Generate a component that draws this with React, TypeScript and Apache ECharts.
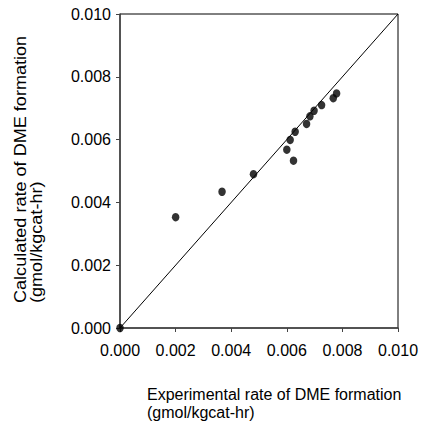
import React, { useEffect, useRef } from "react";
import * as echarts from "echarts";

const experimental = [0, 0.002, 0.00367, 0.0048, 0.006, 0.00612, 0.00624, 0.0063, 0.00671, 0.00683, 0.00698, 0.00725, 0.00767, 0.00779];
const calculated = [0, 0.00353, 0.00434, 0.0049, 0.00568, 0.00599, 0.00533, 0.00625, 0.0065, 0.00674, 0.00692, 0.0071, 0.00732, 0.00747];
const parityX = [0, 0.01];
const parityY = [0, 0.01];
const xTitle = "Experimental rate of DME formation\n(gmol/kgcat-hr)";
const yTitle = "Calculated rate of DME formation\n(gmol/kgcat-hr)";

const FONT = "'Liberation Sans', Arial, sans-serif";

export default function App() {
  const ref = useRef<HTMLDivElement>(null);
  useEffect(() => {
    if (!ref.current) return;
    const chart = echarts.init(ref.current, null, { renderer: "svg" });
    const axisCommon = {
      type: "value" as const,
      min: 0,
      max: 0.01,
      interval: 0.002,
      splitLine: { show: false },
      axisLine: { show: true, onZero: false, lineStyle: { color: "#444", width: 1.5 } },
      axisTick: { show: true, length: 4, lineStyle: { color: "#444", width: 1 } },
      axisLabel: {
        color: "#000",
        fontFamily: FONT,
        fontSize: 16,
        formatter: (v: number) => v.toFixed(3),
      },
    };
    chart.setOption({
      animation: false,
      backgroundColor: "#fff",
      grid: {
        left: 120,
        right: 26,
        top: 14,
        bottom: 94,
        show: true,
        borderColor: "#000",
        borderWidth: 1,
      },
      xAxis: { ...axisCommon, axisLabel: { ...axisCommon.axisLabel, margin: 14 } },
      yAxis: { ...axisCommon, axisLabel: { ...axisCommon.axisLabel, margin: 9 } },
      series: [
        {
          type: "line",
          data: parityX.map((x, i) => [x, parityY[i]]),
          symbol: "none",
          lineStyle: { color: "#000", width: 1 },
          silent: true,
        },
        {
          type: "scatter",
          data: experimental.map((x, i) => [x, calculated[i]]),
          symbol: "circle",
          symbolSize: [7.5, 8.5],
          itemStyle: { color: "#000" },
        },
      ],
      graphic: [
        {
          type: "text",
          left: 147,
          top: 385,
          style: {
            text: xTitle,
            fontFamily: FONT,
            fontSize: 16,
            lineHeight: 18,
            fill: "#000",
            textAlign: "left",
          },
        },
        {
          type: "text",
          x: 13,
          y: 303,
          rotation: Math.PI / 2,
          scaleX: 1.13,
          style: {
            text: yTitle,
            fontFamily: FONT,
            fontSize: 16,
            lineHeight: 16,
            fill: "#000",
            textAlign: "left",
            textVerticalAlign: "top",
          },
        },
      ],
    });
    return () => chart.dispose();
  }, []);
  return (
    <div
      ref={ref}
      style={{ position: "absolute", left: 0, top: 0, width: 424, height: 422 }}
    />
  );
}
